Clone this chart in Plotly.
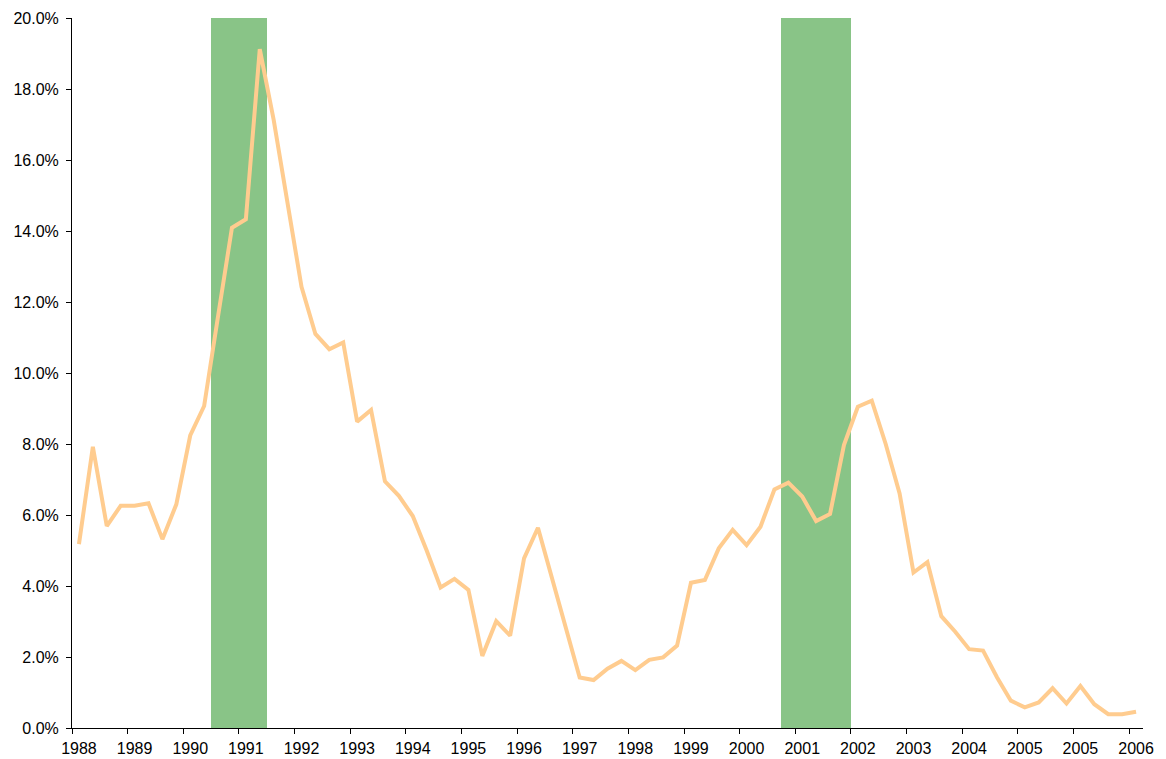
import plotly.graph_objects as go

# Quarterly series (percent)
values = [5.18, 7.92, 5.69, 6.26, 6.26, 6.33, 5.32, 6.30, 8.24, 9.07,
          11.6, 14.09, 14.33, 19.12, 17.13, 14.8, 12.43, 11.1, 10.67, 10.86,
          8.63, 8.96, 6.95, 6.54, 5.97, 5.0, 3.96, 4.2, 3.89, 2.03,
          3.01, 2.6, 4.78, 5.64, 4.22, 2.83, 1.42, 1.35, 1.67, 1.89,
          1.63, 1.92, 1.99, 2.32, 4.09, 4.17, 5.06, 5.58, 5.15, 5.67,
          6.72, 6.91, 6.52, 5.83, 6.03, 7.97, 9.05, 9.22, 8.0, 6.61,
          4.38, 4.67, 3.15, 2.71, 2.22, 2.18, 1.43, 0.77, 0.58, 0.72,
          1.12, 0.69, 1.18, 0.67, 0.39, 0.39, 0.46]

# Recession flags per quarter (1 = recession)
recession = [0] * len(values)
for i in list(range(10, 14)) + list(range(51, 56)):
    recession[i] = 1

# Year labels shown every 4th quarter
tick_labels = ["1988", "1989", "1990", "1991", "1992", "1993", "1994", "1995",
               "1996", "1997", "1998", "1999", "2000", "2001", "2002", "2003",
               "2004", "2005", "2005", "2006"]

n = len(values)
x = list(range(n))
y_max = 20.0

fig = go.Figure()
fig.add_trace(go.Bar(
    x=x, y=[y_max * r for r in recession],
    width=1.0, marker=dict(color="#89C487", line=dict(width=0)),
    hoverinfo="skip", showlegend=False,
))
fig.add_trace(go.Scatter(
    x=x, y=values, mode="lines",
    line=dict(color="#FFCC8F", width=4),
    showlegend=False,
))

fig.update_layout(
    width=1158, height=751,
    margin=dict(l=64, r=23, t=10, b=31, autoexpand=False),
    paper_bgcolor="white", plot_bgcolor="white",
    font=dict(family="Liberation Sans, Arial, sans-serif", size=16, color="#000000"),
    bargap=0,
    xaxis=dict(
        range=[-0.5, n - 0.5],
        tickmode="array",
        tickvals=list(range(0, n, 4)),
        ticktext=tick_labels,
        ticks="",
        showgrid=False, zeroline=False,
        showline=True, linecolor="#000000", linewidth=1,
        minor=dict(tickmode="linear", tick0=-0.5, dtick=4, ticks="outside",
                   ticklen=5, tickcolor="#000000", tickwidth=1, showgrid=False),
        ticklabelstandoff=6,
        automargin=False,
    ),
    yaxis=dict(
        range=[0, y_max],
        tickmode="linear", tick0=0, dtick=2,
        tickformat=".1f", ticksuffix="%",
        ticks="outside", ticklen=5, tickcolor="#000000",
        showgrid=False, zeroline=False,
        showline=True, linecolor="#000000", linewidth=1,
        ticklabelstandoff=4,
        automargin=False,
    ),
)

fig.write_html("out.html")
